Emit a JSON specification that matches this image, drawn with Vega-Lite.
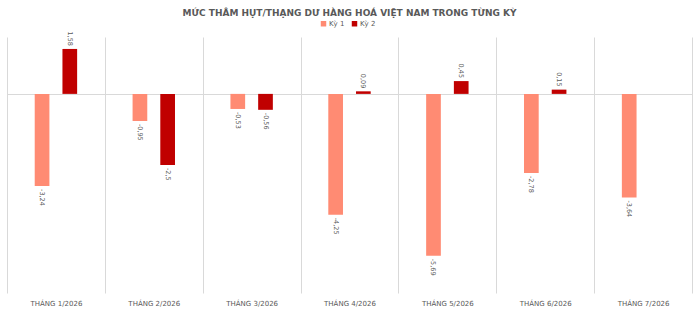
{
  "$schema": "https://vega.github.io/schema/vega-lite/v6.json",
  "width": 685,
  "height": 256,
  "autosize": {"type": "none"},
  "padding": {"left": 7, "top": 37, "right": 8, "bottom": 19},
  "background": "white",
  "config": {
    "view": {"stroke": null},
    "font": "DejaVu Sans",
    "locale": {"number": {"decimal": ",", "thousands": ".", "grouping": [3], "currency": ["", ""], "minus": "-"}}
  },
  "title": {
    "text": "MỨC THÂM HỤT/THẠNG DƯ HÀNG HOÁ VIỆT NAM TRONG TỪNG KỲ",
    "font": "DejaVu Sans",
    "fontSize": 9,
    "fontWeight": "bold",
    "color": "#595959",
    "anchor": "middle",
    "frame": "group",
    "offset": 2
  },
  "data": {
    "values": [
      {"month": "THÁNG 1/2026", "period": "Kỳ 1", "value": -3.24},
      {"month": "THÁNG 1/2026", "period": "Kỳ 2", "value": 1.58},
      {"month": "THÁNG 2/2026", "period": "Kỳ 1", "value": -0.95},
      {"month": "THÁNG 2/2026", "period": "Kỳ 2", "value": -2.5},
      {"month": "THÁNG 3/2026", "period": "Kỳ 1", "value": -0.53},
      {"month": "THÁNG 3/2026", "period": "Kỳ 2", "value": -0.56},
      {"month": "THÁNG 4/2026", "period": "Kỳ 1", "value": -4.25},
      {"month": "THÁNG 4/2026", "period": "Kỳ 2", "value": 0.09},
      {"month": "THÁNG 5/2026", "period": "Kỳ 1", "value": -5.69},
      {"month": "THÁNG 5/2026", "period": "Kỳ 2", "value": 0.45},
      {"month": "THÁNG 6/2026", "period": "Kỳ 1", "value": -2.78},
      {"month": "THÁNG 6/2026", "period": "Kỳ 2", "value": 0.15},
      {"month": "THÁNG 7/2026", "period": "Kỳ 1", "value": -3.64}
    ]
  },
  "encoding": {
    "x": {
      "field": "month",
      "type": "nominal",
      "sort": null,
      "scale": {"paddingInner": 0, "paddingOuter": 0},
      "axis": {
        "title": null,
        "labelAngle": 0,
        "labelFont": "DejaVu Sans",
        "labelFontSize": 7,
        "labelColor": "#595959",
        "labelPadding": 6,
        "domain": false,
        "ticks": false,
        "grid": true,
        "tickBand": "extent",
        "gridColor": "#d9d9d9",
        "gridWidth": 1
      }
    },
    "xOffset": {
      "field": "period",
      "type": "nominal",
      "scale": {"domain": ["Kỳ 1", "Kỳ 2"], "paddingInner": 0.47, "paddingOuter": 1.155}
    },
    "y": {
      "field": "value",
      "type": "quantitative",
      "scale": {"domain": [-7, 2], "nice": false},
      "axis": {
        "title": null,
        "values": [0],
        "labels": false,
        "ticks": false,
        "domain": false,
        "grid": true,
        "gridColor": "#d9d9d9",
        "gridWidth": 1
      }
    }
  },
  "layer": [
    {
      "mark": {"type": "bar"},
      "encoding": {
        "color": {
          "field": "period",
          "type": "nominal",
          "scale": {"domain": ["Kỳ 1", "Kỳ 2"], "range": ["#FF8B73", "#C00000"]},
          "legend": {
            "title": null,
            "orient": "none",
            "direction": "horizontal",
            "legendX": 313,
            "legendY": -17,
            "symbolType": "square",
            "symbolSize": 30,
            "labelFontSize": 7,
            "labelColor": "#595959",
            "labelFont": "DejaVu Sans",
            "columnPadding": 6,
            "symbolOffset": 0,
            "labelOffset": 2
          }
        }
      }
    },
    {
      "transform": [{"filter": "datum.value >= 0"}],
      "mark": {"type": "text", "angle": 90, "align": "right", "baseline": "middle", "dx": -3, "fontSize": 6.5, "color": "#595959", "font": "DejaVu Sans"},
      "encoding": {
        "text": {"field": "value", "type": "quantitative", "format": ".2~f"}
      }
    },
    {
      "transform": [{"filter": "datum.value < 0"}],
      "mark": {"type": "text", "angle": 90, "align": "left", "baseline": "middle", "dx": 3, "fontSize": 6.5, "color": "#595959", "font": "DejaVu Sans"},
      "encoding": {
        "text": {"field": "value", "type": "quantitative", "format": ".2~f"}
      }
    }
  ]
}
